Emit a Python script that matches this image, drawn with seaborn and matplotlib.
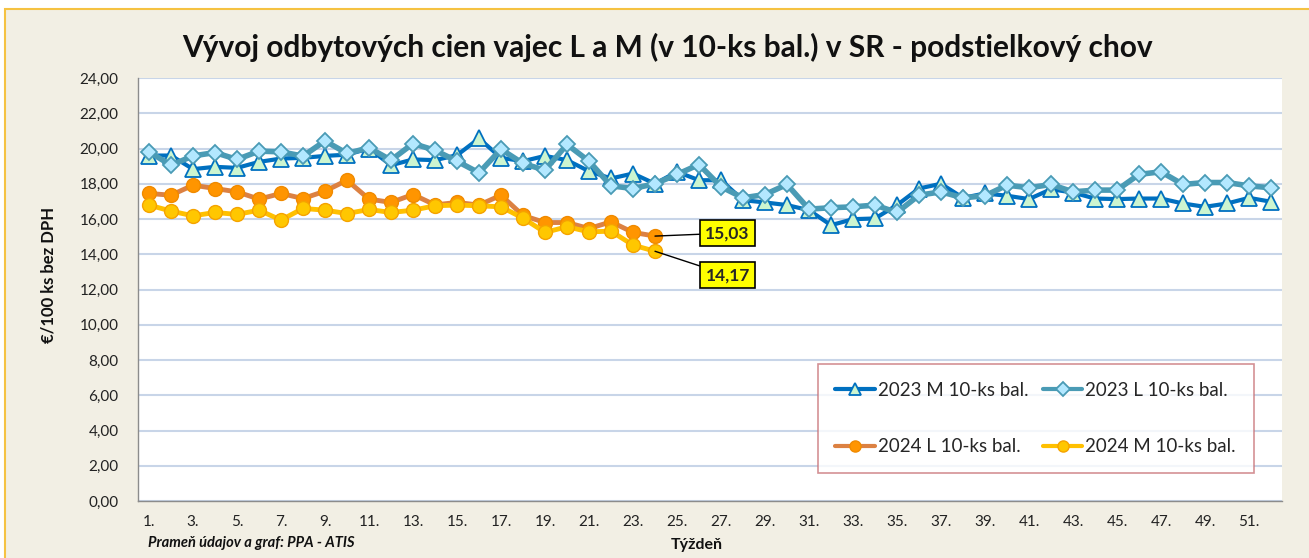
import numpy as np
import pandas as pd
import matplotlib
matplotlib.use("Agg")
import matplotlib.pyplot as plt
from matplotlib.patches import Rectangle
import seaborn as sns

weeks = list(range(1, 53))

m2023 = [19.6, 19.6, 18.83, 18.96, 18.9, 19.24, 19.43, 19.47, 19.58, 19.65, 20.0, 19.05, 19.38,
         19.34, 19.62, 20.57, 19.47, 19.28, 19.58, 19.34, 18.71, 18.3, 18.58, 18.0, 18.68, 18.2,
         18.2, 17.07, 16.94, 16.79, 16.5, 15.65, 15.99, 16.03, 16.79, 17.73, 18.0, 17.2, 17.45,
         17.32, 17.13, 17.69, 17.5, 17.16, 17.13, 17.16, 17.16, 16.88, 16.69, 16.88, 17.2, 16.98]
l2023 = [19.81, 19.05, 19.58, 19.77, 19.38, 19.85, 19.81, 19.57, 20.43, 19.72, 20.04, 19.34, 20.28,
         19.9, 19.28, 18.62, 19.96, 19.15, 18.77, 20.23, 19.28, 17.88, 17.73, 18.0, 18.53, 19.09,
         17.83, 17.2, 17.39, 17.96, 16.56, 16.64, 16.69, 16.79, 16.37, 17.35, 17.54, 17.2, 17.32,
         17.92, 17.77, 17.96, 17.54, 17.64, 17.64, 18.53, 18.68, 17.96, 18.07, 18.07, 17.88, 17.77]
l2024 = [17.45, 17.35, 17.92, 17.73, 17.54, 17.13, 17.45, 17.16, 17.58, 18.2, 17.13, 16.94, 17.39,
         16.8, 16.94, 16.79, 17.35, 16.2, 15.8, 15.8, 15.46, 15.84, 15.24, 15.03]
m2024 = [16.79, 16.45, 16.18, 16.37, 16.26, 16.5, 15.94, 16.6, 16.5, 16.31, 16.54, 16.37, 16.5,
         16.75, 16.79, 16.75, 16.69, 16.05, 15.24, 15.56, 15.27, 15.31, 14.52, 14.17]

series_names = ["2023 M 10-ks bal.", "2023 L 10-ks bal.", "2024 L 10-ks bal.", "2024 M 10-ks bal."]
yticks = list(range(0, 25, 2))
xtick_weeks = list(range(1, 52, 2))

sns.set_theme(style="white")
plt.rcParams['font.family'] = ['Lato', 'DejaVu Sans']

W, H = 1309, 558
fig = plt.figure(figsize=(W / 100, H / 100), dpi=100, facecolor="white")
fig.patches.append(Rectangle((5 / W, -0.01), 1.0, 1 - 9 / H + 0.01, transform=fig.transFigure,
                             facecolor="#F2EFE4", edgecolor="#F5C242", linewidth=1.5, zorder=-5))

ax = fig.add_axes([138 / W, 1 - 501 / H, (1282 - 138) / W, (501 - 78) / H])
ax.set_zorder(2)
ax.set_facecolor("white")

styles = [
    dict(data=m2023, color="#0070C0", lw=3.0, marker="^", ms=11, mfc="#CCF5D0", mec="#0070C0", mew=1.3),
    dict(data=l2023, color="#4A9BB5", lw=4.0, marker="D", ms=8.5, mfc="#B3E8FF", mec="#4A9BB5", mew=1.3),
    dict(data=l2024, color="#DC8142", lw=3.5, marker="o", ms=10, mfc="#FF9500", mec="#F08A00", mew=1.0),
    dict(data=m2024, color="#FFC000", lw=3.5, marker="o", ms=10, mfc="#FFC700", mec="#F5A300", mew=1.0),
]
for name, st in zip(series_names, styles):
    df = pd.DataFrame({"week": weeks[:len(st["data"])], "value": st["data"]})
    sns.lineplot(data=df, x="week", y="value", ax=ax, color=st["color"], lw=st["lw"],
                 marker=st["marker"], markersize=st["ms"], markerfacecolor=st["mfc"],
                 markeredgecolor=st["mec"], markeredgewidth=st["mew"], label=name, zorder=3)

ax.set_xlim(0.5, 52.5)
ax.set_ylim(0, 24)
ax.set_yticks(yticks)
ax.set_yticklabels([f"{v:.2f}".replace(".", ",") for v in yticks], fontsize=11, color="#222222")
ax.set_xticks(xtick_weeks)
ax.set_xticklabels([f"{w}." for w in xtick_weeks], fontsize=11, color="#222222")
ax.tick_params(axis="x", pad=10, length=0)
ax.tick_params(axis="y", pad=14, length=0)
ax.grid(axis="y", color="#C8D5E8", lw=1.5)
ax.set_axisbelow(True)
for s in ["top", "right"]:
    ax.spines[s].set_visible(False)
for s in ["left", "bottom"]:
    ax.spines[s].set_color("#8C8C8C")
    ax.spines[s].set_linewidth(1.0)
ax.set_xlabel("")
ax.set_ylabel("")

fig.text(667 / W, 1 - 47 / H, "Vývoj odbytových cien vajec L a M (v 10-ks bal.) v SR - podstielkový chov",
         ha="center", va="center", fontsize=21.5, fontweight="bold", color="#111111")
fig.text(48 / W, 1 - 275 / H, "€/100 ks bez DPH", rotation=90, ha="center", va="center",
         fontsize=12, fontweight="bold", color="#111111")
fig.text(697 / W, 1 - 545 / H, "Týždeň", ha="center", va="center", fontsize=11.5,
         fontweight="bold", color="#111111")
fig.text(148 / W, 1 - 543 / H, "Prameň údajov a graf: PPA - ATIS", ha="left", va="center",
         fontsize=10.5, fontstyle="italic", fontweight="bold", color="#111111")

bbox_style = dict(boxstyle="square,pad=0.3", facecolor="#FFFF00", edgecolor="black", lw=1.2)
ax.annotate(f"{l2024[-1]:.2f}".replace(".", ","), xy=(24, l2024[-1]), xytext=(27.3, 15.2),
            ha="center", va="center", fontsize=12.5, fontweight="bold", bbox=bbox_style,
            arrowprops=dict(arrowstyle="-", color="black", lw=1.0, shrinkA=0, shrinkB=0), zorder=5)
ax.annotate(f"{m2024[-1]:.2f}".replace(".", ","), xy=(24, m2024[-1]), xytext=(27.3, 12.82),
            ha="center", va="center", fontsize=12.5, fontweight="bold", bbox=bbox_style,
            arrowprops=dict(arrowstyle="-", color="black", lw=1.0, shrinkA=0, shrinkB=0), zorder=5)

handles, labels = ax.get_legend_handles_labels()
order = [0, 2, 1, 3]
leg = ax.legend([handles[i] for i in order], [labels[i] for i in order], ncol=2,
                loc="upper left", bbox_to_anchor=(0.594, 0.324),
                fontsize=13.5, frameon=True, fancybox=False, handlelength=2.1, handletextpad=0.15,
                labelspacing=2.1, columnspacing=0.8, borderpad=0.95, borderaxespad=0,
                markerscale=0.8)
leg.get_frame().set_edgecolor("#C9757A")
leg.get_frame().set_linewidth(1.2)
for lh in leg.get_lines():
    lh.set_linewidth(3.0)

fig.savefig("out.png", dpi=100, facecolor=fig.get_facecolor())
